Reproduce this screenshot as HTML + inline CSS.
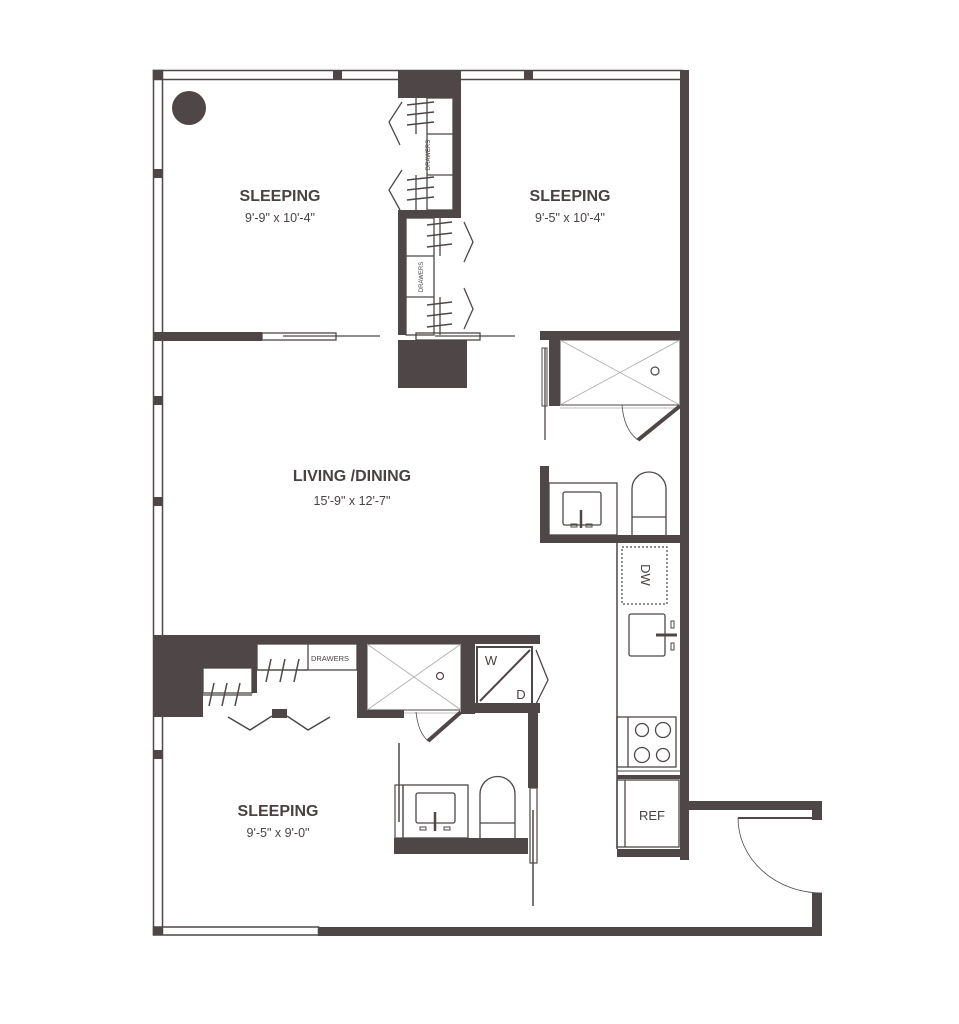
<!DOCTYPE html>
<html><head><meta charset="utf-8"><style>
html,body{margin:0;padding:0;background:#fff;width:959px;height:1024px;overflow:hidden}
svg{display:block}
text{font-family:"Liberation Sans",sans-serif;fill:#4a4242}
</style></head><body>
<svg width="959" height="1024" viewBox="0 0 959 1024" xmlns="http://www.w3.org/2000/svg">
<g fill="none" stroke="#4f4747" stroke-width="1.5">
<rect x="153.5" y="70.5" width="529" height="9"/>
<rect x="153.5" y="70.5" width="9" height="864"/>
<rect x="153.5" y="927" width="165" height="8"/>
</g>
<g fill="#4f4747">
<rect x="153" y="70" width="10" height="10"/>
<rect x="333" y="70" width="9" height="10"/>
<rect x="398" y="70" width="63" height="28"/>
<rect x="524" y="70" width="9" height="10"/>
<rect x="680" y="70" width="9" height="270"/>
<rect x="153" y="169" width="10" height="9"/>
<rect x="153" y="396" width="10" height="9"/>
<rect x="153" y="497" width="10" height="9"/>
<rect x="153" y="750" width="10" height="9"/>
<rect x="153" y="927" width="10" height="8"/>
<circle cx="189" cy="108" r="17"/>
<rect x="153" y="332" width="109" height="9"/>
<rect x="453" y="98" width="8" height="120"/>
<rect x="398" y="210" width="63" height="8"/>
<rect x="398" y="218" width="8" height="117"/>
<rect x="398" y="340" width="69" height="48"/>
<rect x="540" y="331" width="149" height="9"/>
<rect x="549" y="340" width="11" height="66"/>
<rect x="680" y="340" width="9" height="520"/>
<rect x="540" y="466" width="9" height="77"/>
<rect x="540" y="535" width="149" height="8"/>
<rect x="617" y="849" width="72" height="8"/>
<rect x="617" y="775" width="63" height="4"/>
<rect x="689" y="801" width="133" height="9"/>
<rect x="812" y="801" width="10" height="19"/>
<rect x="812" y="893" width="10" height="42"/>
<rect x="318" y="927" width="504" height="9"/>
<rect x="153" y="635" width="387" height="9"/>
<rect x="153" y="635" width="50" height="82"/>
<rect x="203" y="644" width="54" height="24"/>
<rect x="252" y="644" width="5" height="49"/>
<rect x="357" y="644" width="10" height="74"/>
<rect x="357" y="710" width="47" height="8"/>
<rect x="461" y="644" width="14" height="70"/>
<rect x="461" y="703" width="79" height="10"/>
<rect x="528" y="703" width="10" height="85"/>
<rect x="394" y="838" width="134" height="16"/>
<rect x="272" y="709" width="15" height="9"/>
</g>
<g fill="none" stroke="#4f4747" stroke-width="1.3">
<rect x="262" y="333" width="74" height="7"/>
<line x1="283" y1="336" x2="380" y2="336"/>
<rect x="416" y="333" width="64" height="7"/>
<line x1="435" y1="336" x2="515" y2="336"/>
<rect x="427" y="98" width="26" height="112"/>
<line x1="427" y1="134" x2="453" y2="134"/>
<line x1="427" y1="175" x2="453" y2="175"/>
<rect x="406" y="218" width="28" height="117"/>
<line x1="406" y1="256" x2="434" y2="256"/>
<line x1="406" y1="297" x2="434" y2="297"/>
<polyline points="402,102 389,122 400,145"/>
<polyline points="402,170 389,190 400,210"/>
<polyline points="464,222 473,242 464,262"/>
<polyline points="464,288 473,309 464,329"/>
<line x1="416" y1="98" x2="416" y2="134"/><line x1="416" y1="175" x2="416" y2="210"/>
<line x1="440" y1="218" x2="440" y2="256"/><line x1="440" y1="297" x2="440" y2="335"/>
</g>
<g stroke="#4f4747" stroke-width="1.5">
<line x1="407" y1="105" x2="434" y2="102"/><line x1="407" y1="115" x2="434" y2="112"/><line x1="407" y1="125" x2="434" y2="122"/>
<line x1="407" y1="180" x2="434" y2="177"/><line x1="407" y1="190" x2="434" y2="187"/><line x1="407" y1="200" x2="434" y2="197"/>
<line x1="427" y1="225" x2="452" y2="222"/><line x1="427" y1="236" x2="452" y2="233"/><line x1="427" y1="247" x2="452" y2="244"/>
<line x1="427" y1="305" x2="452" y2="302"/><line x1="427" y1="316" x2="452" y2="313"/><line x1="427" y1="327" x2="452" y2="324"/>
<!-- bottom closet hangers -->
<line x1="209" y1="706" x2="214" y2="683"/><line x1="222" y1="706" x2="227" y2="683"/><line x1="235" y1="706" x2="240" y2="683"/>
<line x1="266" y1="682" x2="271" y2="659"/><line x1="280" y1="682" x2="285" y2="659"/><line x1="294" y1="682" x2="299" y2="659"/>
</g>
<text x="430" y="155" font-size="6" transform="rotate(-90 430 155)" text-anchor="middle">DRAWERS</text>
<text x="423" y="277" font-size="6" transform="rotate(-90 423 277)" text-anchor="middle">DRAWERS</text>
<g fill="none" stroke="#4f4747">
<rect x="542" y="348" width="5" height="58" stroke-width="1"/>
<line x1="545" y1="348" x2="545" y2="440" stroke-width="1.3"/>
<rect x="560" y="340" width="120" height="65" stroke-width="1"/>
<line x1="560" y1="340" x2="680" y2="405" stroke="#aaa" stroke-width="0.8"/>
<line x1="680" y1="340" x2="560" y2="405" stroke="#aaa" stroke-width="0.8"/>
<line x1="560" y1="408" x2="680" y2="408" stroke="#aaa" stroke-width="0.8"/>
<circle cx="655" cy="371" r="4" stroke-width="1.2"/>
<path d="M622,405 Q624,430 638,440" stroke-width="0.8"/>
<line x1="680" y1="406" x2="638" y2="440" stroke-width="4"/>
<rect x="549" y="483" width="68" height="52" stroke-width="1.3"/>
<rect x="563" y="492" width="38" height="33" rx="2" stroke-width="1.3"/>
<line x1="581" y1="510" x2="581" y2="528" stroke-width="2.5"/>
<rect x="571" y="524" width="6" height="3" stroke-width="1"/><rect x="586" y="524" width="6" height="3" stroke-width="1"/>
<path d="M632,535 V489 A17,17 0 0 1 666,489 V535" stroke-width="1.3"/>
<line x1="632" y1="517" x2="666" y2="517" stroke-width="1.3"/>
<line x1="617" y1="543" x2="617" y2="849" stroke-width="1.5"/>
<rect x="622" y="547" width="45" height="57" stroke-dasharray="2,2" stroke-width="1.2"/>
<rect x="629" y="614" width="36" height="42" rx="2" stroke-width="1.3"/>
<line x1="656" y1="635" x2="677" y2="635" stroke-width="3"/>
<rect x="671" y="621" width="3" height="7" stroke-width="1"/><rect x="671" y="643" width="3" height="7" stroke-width="1"/>
<rect x="617" y="717" width="59" height="50" stroke-width="1.3"/>
<line x1="628" y1="717" x2="628" y2="767" stroke-width="1.3"/>
<line x1="617" y1="771" x2="680" y2="771" stroke-width="1"/>
<circle cx="642" cy="730" r="6.5" stroke-width="1.3"/><circle cx="663" cy="730" r="7.5" stroke-width="1.3"/>
<circle cx="642" cy="755" r="7.5" stroke-width="1.3"/><circle cx="663" cy="755" r="6.5" stroke-width="1.3"/>
<rect x="617" y="780" width="62" height="67" stroke-width="1.3"/>
<line x1="625" y1="780" x2="625" y2="847" stroke-width="1.3"/>
<line x1="738" y1="818" x2="812" y2="818" stroke-width="2"/>
<path d="M738,818 A84,75 0 0 0 822,893" stroke-width="0.8"/>
<rect x="203" y="668" width="49" height="25" stroke-width="1.3"/>
<rect x="257" y="644" width="100" height="26" stroke-width="1.3"/>
<line x1="308" y1="644" x2="308" y2="670" stroke-width="1.3"/>
<line x1="203" y1="695" x2="252" y2="695" stroke-width="1.3"/>
<line x1="257" y1="670" x2="308" y2="670" stroke-width="1.3"/>
<polyline points="228,717 250,730 272,716" stroke-width="1.5"/>
<polyline points="287,716 308,730 330,717" stroke-width="1.5"/>
<rect x="367" y="644" width="94" height="66" stroke-width="1"/>
<line x1="367" y1="644" x2="461" y2="710" stroke="#aaa" stroke-width="0.8"/>
<line x1="461" y1="644" x2="367" y2="710" stroke="#aaa" stroke-width="0.8"/>
<line x1="404" y1="713" x2="461" y2="713" stroke="#aaa" stroke-width="0.8"/>
<circle cx="440" cy="676" r="3.5" stroke-width="1.2"/>
<path d="M416,712 Q418,732 428,741" stroke-width="0.8"/>
<line x1="461" y1="712" x2="428" y2="741" stroke-width="4"/>
<rect x="477" y="647" width="55" height="57" stroke-width="2"/>
<line x1="480" y1="701" x2="530" y2="650" stroke-width="2"/>
<polyline points="536,650 548,680 536,704" stroke-width="1.3"/>
<rect x="395" y="785" width="8" height="53" stroke-width="1.2"/>
<line x1="399" y1="743" x2="399" y2="822" stroke-width="1.5"/>
<rect x="530" y="788" width="7" height="75" stroke-width="1.2"/>
<line x1="533" y1="810" x2="533" y2="906" stroke-width="1.5"/>
<rect x="403" y="785" width="65" height="53" stroke-width="1.3"/>
<rect x="416" y="793" width="39" height="30" rx="2" stroke-width="1.3"/>
<line x1="435" y1="812" x2="435" y2="831" stroke-width="2.5"/>
<rect x="420" y="827" width="6" height="3" stroke-width="1"/><rect x="444" y="827" width="6" height="3" stroke-width="1"/>
<path d="M480,838 V794 A17.5,17.5 0 0 1 515,794 V838" stroke-width="1.3"/>
<line x1="480" y1="823" x2="515" y2="823" stroke-width="1.3"/>
</g>
<text x="330" y="661" font-size="7.5" text-anchor="middle">DRAWERS</text>
<text x="491" y="665" font-size="13" text-anchor="middle">W</text>
<text x="521" y="699" font-size="13" text-anchor="middle">D</text>
<text x="645" y="575" font-size="13" text-anchor="middle" transform="rotate(90 645 575)" dy="4">DW</text>
<text x="652" y="820" font-size="13" text-anchor="middle">REF</text>
<g font-weight="bold" font-size="16">
<text x="280" y="201" text-anchor="middle">SLEEPING</text>
<text x="570" y="201" text-anchor="middle">SLEEPING</text>
<text x="352" y="481" text-anchor="middle">LIVING /DINING</text>
<text x="278" y="816" text-anchor="middle">SLEEPING</text>
</g>
<g font-size="12.5">
<text x="280" y="222" text-anchor="middle">9'-9" x 10'-4"</text>
<text x="570" y="222" text-anchor="middle">9'-5" x 10'-4"</text>
<text x="352" y="505" text-anchor="middle">15'-9" x 12'-7"</text>
<text x="278" y="837" text-anchor="middle">9'-5" x 9'-0"</text>
</g>
</svg>
</body></html>
